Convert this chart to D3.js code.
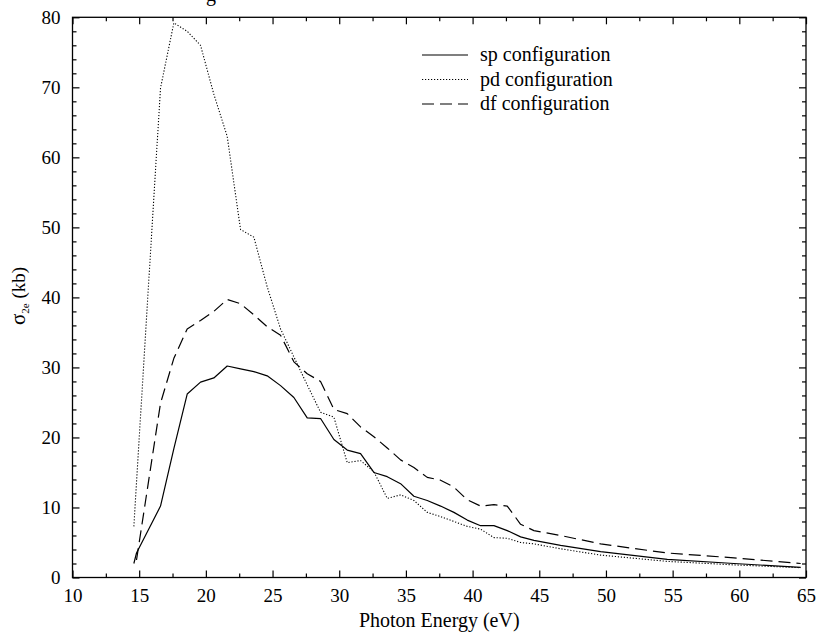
<!DOCTYPE html>
<html>
<head>
<meta charset="utf-8">
<script src="https://cdn.jsdelivr.net/npm/d3@7"></script>
<style>
body { margin: 0; background: #fff; }
</style>
</head>
<body>
<svg width="819" height="633"></svg>
<script>
// data (photon energy in eV, cross section in kb)
var energy = [14.6, 14.8, 16.6, 17.6, 18.6, 19.6, 20.6, 21.6, 22.6, 23.6, 24.6, 25.6, 26.6, 27.6, 28.6, 29.6,
    30.6, 31.6, 32.6, 33.6, 34.6, 35.6, 36.6, 37.6, 38.6, 39.6, 40.6, 41.6, 42.6, 43.6, 44.6,
    46.6, 49.6, 54.6, 59.6, 64.6];
var sp = [2.0, 3.5, 10.2, 18.4, 26.2, 27.9, 28.5, 30.2, 29.8, 29.4, 28.8, 27.4, 25.7, 22.8, 22.7, 19.7,
    18.2, 17.7, 15.0, 14.4, 13.4, 11.6, 11.0, 10.2, 9.3, 8.2, 7.4, 7.4, 6.7, 5.8, 5.3,
    4.6, 3.7, 2.6, 2.0, 1.45];
var pd = [7.3, 13.6, 69.9, 79.2, 78.0, 76.0, 69.0, 63.0, 49.7, 48.6, 41.5, 35.5, 31.5, 27.5, 23.6, 22.9,
    16.4, 16.7, 15.1, 11.3, 11.8, 11.0, 9.3, 8.7, 8.0, 7.3, 6.9, 5.7, 5.6, 5.0, 4.8,
    4.1, 3.2, 2.3, 1.8, 1.4];
var df = [null, 2.5, 24.9, 31.3, 35.5, 36.7, 38.0, 39.7, 39.1, 37.5, 35.8, 34.6, 30.8, 29.1, 28.0, 24.0,
    23.4, 21.5, 20.1, 18.5, 16.8, 15.7, 14.3, 13.9, 12.9, 11.1, 10.2, 10.4, 10.2, 7.6, 6.7,
    6.0, 4.8, 3.5, 2.8, 2.0];
var seriesNames = ["sp configuration", "pd configuration", "df configuration"];
var xTicks = [10, 15, 20, 25, 30, 35, 40, 45, 50, 55, 60, 65];
var xMinor = [12.5, 17.5, 22.5, 27.5, 32.5, 37.5, 42.5, 47.5, 52.5, 57.5, 62.5];
var yTicks = [0, 10, 20, 30, 40, 50, 60, 70, 80];
var yMinor = [2, 4, 6, 8, 12, 14, 16, 18, 22, 24, 26, 28, 32, 34, 36, 38, 42, 44, 46, 48,
    52, 54, 56, 58, 62, 64, 66, 68, 72, 74, 76, 78];

// line styles for sp / pd / df
var DASHES = [null, "1.2,1.8", "12,6"];

// plot box
var PL = 72.5, PR = 806, PT = 17.3, PB = 577.5;
var FONT = "'Liberation Serif', 'DejaVu Serif', serif";

var svg = d3.select("svg").style("font-family", FONT);

var x = d3.scaleLinear().domain([10, 65]).range([PL, PR]);
var y = d3.scaleLinear().domain([0, 80]).range([PB, PT]);

function draw_axes(){
    // bottom
    var gb = svg.append("g").attr("transform", "translate(0," + PB + ")");
    gb.call(d3.axisBottom(x).tickValues(xTicks).tickSizeInner(-7).tickSizeOuter(0).tickPadding(11));
    gb.append("g").call(d3.axisBottom(x).tickValues(xMinor).tickSize(-4).tickFormat(""));
    // top
    var gt = svg.append("g").attr("transform", "translate(0," + PT + ")");
    gt.call(d3.axisTop(x).tickValues(xTicks).tickSize(-7).tickFormat(""));
    gt.append("g").call(d3.axisTop(x).tickValues(xMinor).tickSize(-4).tickFormat(""));
    // left
    var gl = svg.append("g").attr("transform", "translate(" + PL + ",0)");
    gl.call(d3.axisLeft(y).tickValues(yTicks).tickSizeInner(-7).tickSizeOuter(0).tickPadding(12));
    gl.append("g").call(d3.axisLeft(y).tickValues(yMinor).tickSize(-4).tickFormat(""));
    // right
    var gr = svg.append("g").attr("transform", "translate(" + PR + ",0)");
    gr.call(d3.axisRight(y).tickValues(yTicks).tickSize(-7).tickFormat(""));
    gr.append("g").call(d3.axisRight(y).tickValues(yMinor).tickSize(-4).tickFormat(""));

    svg.selectAll(".domain").remove();
    svg.selectAll(".tick line").attr("stroke", "#000").attr("stroke-width", 1.2);
    svg.selectAll(".tick text")
        .attr("fill", "#000")
        .style("font-family", FONT)
        .style("font-size", "19px")
    ;

    // frame
    svg.append("rect")
        .attr("x", PL).attr("y", PT)
        .attr("width", PR - PL).attr("height", PB - PT)
        .attr("fill", "none")
        .attr("stroke", "#000")
        .attr("stroke-width", 1.3)
    ;
}

function draw_lines(){
    var all = [sp, pd, df];
    var line = d3.line()
        .defined(function(d){ return d[1] != null; })
        .x(function(d){ return x(d[0]); })
        .y(function(d){ return y(d[1]); });
    all.forEach(function(vals, i){
        var pts = energy.map(function(e, j){ return [e, vals[j]]; });
        svg.append("path")
            .datum(pts)
            .attr("d", line)
            .attr("fill", "none")
            .attr("stroke", "#000")
            .attr("stroke-width", i == 1 ? 1.1 : 1.2)
            .attr("stroke-linejoin", "round")
            .attr("stroke-dasharray", DASHES[i])
        ;
    });
}

function draw_legend(){
    var g = svg.append("g");
    seriesNames.forEach(function(name, i){
        var ry = 55 + i * 24.5;
        g.append("line")
            .attr("x1", 422).attr("x2", 468)
            .attr("y1", ry).attr("y2", ry)
            .attr("stroke", "#000")
            .attr("stroke-width", 1.2)
            .attr("stroke-dasharray", DASHES[i])
        ;
        g.append("text")
            .attr("x", 480).attr("y", ry + 6)
            .style("font-size", "20px")
            .text(name)
        ;
    });
}

function draw_labels(){
    // x label
    svg.append("text")
        .attr("x", (PL + PR) / 2).attr("y", 627)
        .attr("text-anchor", "middle")
        .style("font-size", "20px")
        .text("Photon Energy (eV)")
    ;
    // y label
    var t = svg.append("text")
        .attr("transform", "translate(25,296) rotate(-90)")
        .attr("text-anchor", "middle")
        .style("font-size", "19px")
    ;
    t.append("tspan").style("font-size", "21px").text("σ");
    t.append("tspan").attr("dy", 4).style("font-size", "11px").text("2e");
    t.append("tspan").attr("dy", -4).text(" (kb)");
    // title, cut off at the top edge
    svg.append("text")
        .attr("x", 211).attr("y", 1)
        .attr("text-anchor", "middle")
        .style("font-size", "20px")
        .text("g")
    ;
}

draw_axes();
draw_lines();
draw_legend();
draw_labels();
</script>
</body>
</html>
